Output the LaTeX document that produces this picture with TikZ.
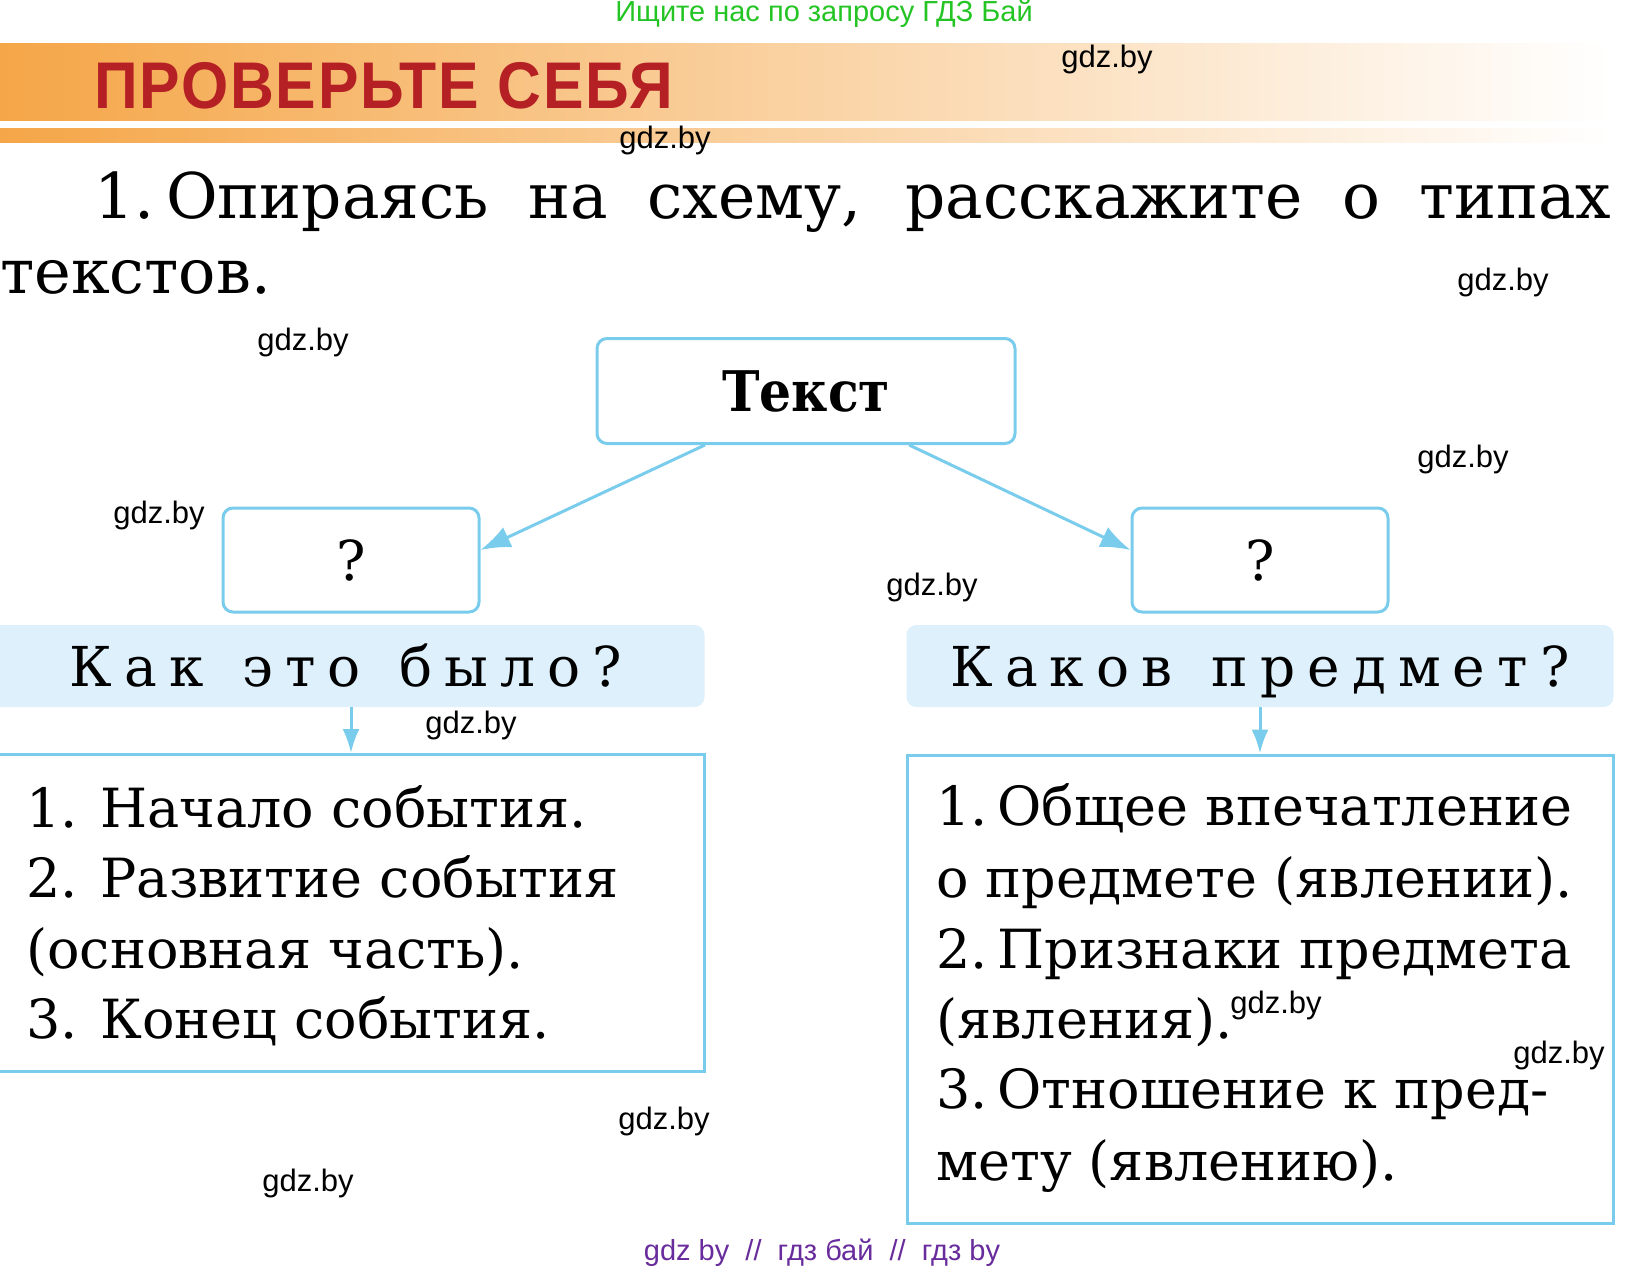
\documentclass[tikz,border=0pt]{standalone}
\usepackage{fontspec}
\setmainfont{DejaVu Serif}
\newfontfamily\wmfont{Liberation Sans}
\usetikzlibrary{arrows.meta,calc}

\definecolor{hdrorange}{RGB}{245,166,72}
\definecolor{hdrcream}{RGB}{252,226,192}
\definecolor{hdrred}{RGB}{180,32,36}
\definecolor{skyline}{RGB}{122,204,236}
\definecolor{skyfill}{RGB}{221,240,251}
\definecolor{wmgreen}{RGB}{36,196,36}
\definecolor{wmpurple}{RGB}{104,44,156}

\tikzset{
	qbox/.style={draw=skyline, line width=3pt, rounded corners=10pt, minimum width=256pt, minimum height=104pt, font=\fontsize{55}{60}\selectfont},
	band/.style={fill=skyfill, rounded corners=10pt, minimum height=82pt, text height=40pt, text depth=0pt, font=\fontsize{55}{60}\selectfont\addfontfeature{LetterSpace=22}},
	listbox/.style={draw=skyline, line width=3pt},
	listline/.style={anchor=base west, inner sep=0pt, font=\fontsize{54}{60}\selectfont},
	wm/.style={inner sep=0pt, font=\wmfont\fontsize{31}{32}\selectfont},
	link/.style={draw=skyline, line width=3pt, -{Latex[length=30pt,width=22pt]}},
	drop/.style={draw=skyline, line width=3pt, -{Latex[length=24pt,width=17pt]}},
}

\begin{document}
\begin{tikzpicture}[x=1pt,y=-1pt]
		%%%%% START %%%%%
		\useasboundingbox (0,0) rectangle (1646,1269);
		
		\node[wm, text=wmgreen, font=\wmfont\fontsize{29}{30}\selectfont] (ask) at (824,14) {Ищите нас по запросу ГДЗ Бай};
		
		% header
		\shade[left color=hdrorange, middle color=hdrcream, right color=white] (0,43) rectangle (1610,120);
		\shade[left color=hdrorange, middle color=hdrcream, right color=white] (0,128) rectangle (1610,142);
		\node[anchor=base west, inner sep=0pt, text=hdrred, font=\wmfont\bfseries\fontsize{66}{70}\selectfont\addfontfeature{LetterSpace=3}] (title) at (94,108) {\scalebox{0.92}[1]{ПРОВЕРЬТЕ СЕБЯ}};
		
		\node[anchor=base west, inner sep=0pt, font=\fontsize{63}{70}\selectfont] (task) at (94,218) {\makebox[1517pt][s]{1.\kern12pt Опираясь на схему, расскажите о типах}};
		\node[anchor=base west, inner sep=0pt, font=\fontsize{62}{70}\selectfont] (task2) at (0,293) {текстов.};
		
		% scheme
		\node[qbox, minimum width=418pt, minimum height=105pt, font=\bfseries\fontsize{56}{60}\selectfont] (txt) at (806,391) {\scalebox{0.9}[1]{Текст}};
		\node[qbox] (q1) at (351,560) {?};
		\node[qbox] (q2) at (1260,560) {?};
		
		\draw[link] ($(txt.south west)!0.26!(txt.south east)$) -- ([yshift=10pt]q1.east);
		\draw[link] ($(txt.south west)!0.745!(txt.south east)$) -- ([yshift=10pt]q2.west);
		
		\node[band, minimum width=717pt] (band1) at (346,666) {Как\, это\, было?};
		\node[band, minimum width=707pt] (band2) at (1260,666) {Каков\, предмет?};
		
		\node[listbox, minimum width=717pt, minimum height=317pt] (list1) at (346,913) {};
		\node[listbox, minimum width=706pt, minimum height=468pt] (list2) at (1260,989) {};
		
		\draw[drop] (band1.south -| q1) -- (list1.north -| q1);
		\draw[drop] (band2.south -| q2) -- (list2.north -| q2);
		
		% left list
		\node[listline] (a1) at (26,827) {1. Начало события.};
		\node[listline] (a2) at (26,897) {2. Развитие события};
		\node[listline] (a3) at (26,968) {(основная часть).};
		\node[listline] (a4) at (26,1038) {3. Конец события.};
		
		% right list
		\node[listline] (b1) at (936,825) {1.\kern10pt Общее впечатление};
		\node[listline] (b2) at (936,897) {о предмете (явлении).};
		\node[listline] (b3) at (936,968) {2.\kern10pt Признаки предмета};
		\node[listline] (b4) at (936,1038) {(явления).};
		\node[listline] (b5) at (936,1108) {3.\kern10pt Отношение к пред-};
		\node[listline] (b6) at (936,1180) {мету (явлению).};
		
		% marks
		\node[wm] (wm1) at (1107,59) {gdz.by};
		\node[wm] (wm2) at (665,140) {gdz.by};
		\node[wm] (wm3) at (1503,282) {gdz.by};
		\node[wm] (wm4) at (303,342) {gdz.by};
		\node[wm] (wm5) at (1463,459) {gdz.by};
		\node[wm] (wm6) at (159,515) {gdz.by};
		\node[wm] (wm7) at (932,587) {gdz.by};
		\node[wm] (wm8) at (471,725) {gdz.by};
		\node[wm] (wm9) at (1276,1005) {gdz.by};
		\node[wm] (wm10) at (1559,1055) {gdz.by};
		\node[wm] (wm11) at (664,1121) {gdz.by};
		\node[wm] (wm12) at (308,1183) {gdz.by};
		
		\node[wm, text=wmpurple, font=\wmfont\fontsize{29}{30}\selectfont] (site) at (822,1253) {gdz by\ \ //\ \ гдз бай\ \ //\ \ гдз by};
		
		%%%%% END %%%%%
	\end{tikzpicture}
\end{document}
